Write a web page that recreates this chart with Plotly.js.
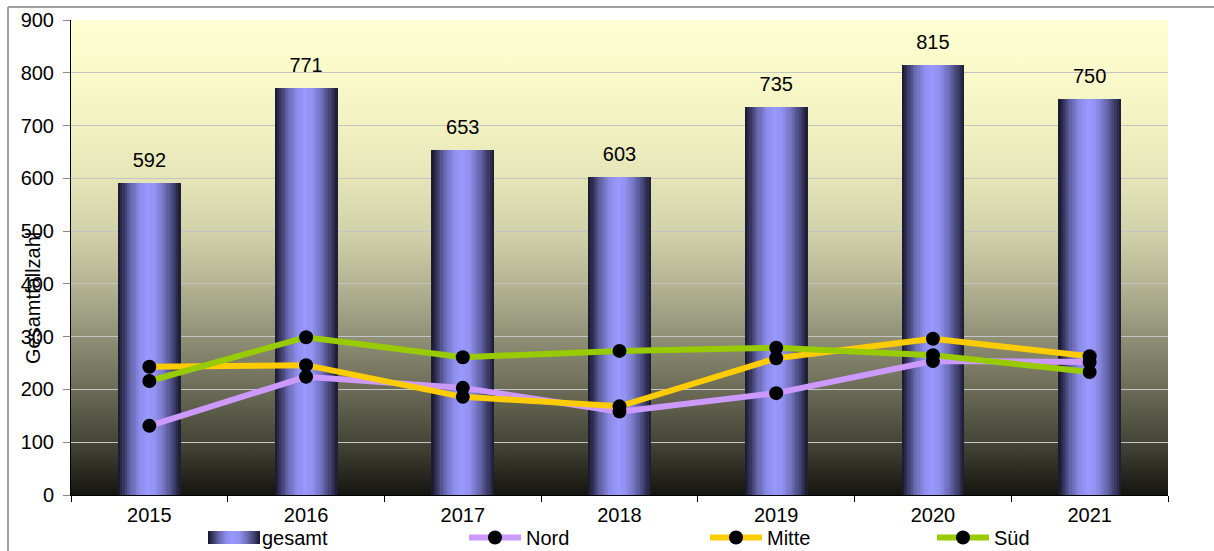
<!DOCTYPE html>
<html>
<head>
<meta charset="utf-8">
<script src="https://cdn.plot.ly/plotly-3.0.1.min.js"></script>
<style>
  html, body { margin: 0; padding: 0; background: #ffffff; }
  #chart { width: 1214px; height: 551px; }
</style>
</head>
<body>
<div id="chart"></div>
<script>
// ---- data ----
const years = ['2015', '2016', '2017', '2018', '2019', '2020', '2021'];
const gesamt = [592, 771, 653, 603, 735, 815, 750];
const nord = [131, 224, 203, 158, 193, 254, 252];
const mitte = [243, 246, 186, 168, 259, 296, 263];
const sued = [216, 299, 261, 273, 279, 265, 233];
const seriesNames = ['gesamt', 'Nord', 'Mitte', 'Süd'];
const yTicks = [0, 100, 200, 300, 400, 500, 600, 700, 800, 900];

// ---- styling ----
const FONT = 'Liberation Sans, Arial, sans-serif';
const FS = 20;
const barWidth = 0.4;
const nSlices = 28;
// horizontal bar shading: [position, [r,g,b]]
const barStops = [
  [0.00, [22, 22, 40]],
  [0.08, [50, 50, 90]],
  [0.20, [100, 100, 170]],
  [0.35, [140, 140, 235]],
  [0.48, [153, 153, 255]],
  [0.60, [145, 145, 240]],
  [0.75, [110, 110, 185]],
  [0.90, [60, 60, 105]],
  [1.00, [25, 25, 45]]
];
function shade(t) {
  for (let k = 0; k < barStops.length - 1; k++) {
    const [p0, c0] = barStops[k], [p1, c1] = barStops[k + 1];
    if (t >= p0 && t <= p1) {
      const f = (t - p0) / (p1 - p0);
      const c = c0.map((v, j) => Math.round(v + (c1[j] - v) * f));
      return 'rgb(' + c.join(',') + ')';
    }
  }
  return 'rgb(25,25,45)';
}

const traces = [];
const sw = barWidth / nSlices;
for (let i = 0; i < nSlices; i++) {
  const t = (i + 0.5) / nSlices;
  traces.push({
    type: 'bar',
    x: years,
    y: gesamt,
    width: sw * 1.04,
    offset: -barWidth / 2 + i * sw,
    marker: { color: shade(t), line: { width: 0 } },
    name: seriesNames[0],
    showlegend: false,
    hoverinfo: 'skip'
  });
}

// legend-only entry for the bars (swatch painted by a gradient image)
traces.push({
  type: 'scatter', mode: 'lines',
  x: [null], y: [null],
  name: seriesNames[0],
  line: { color: 'rgba(0,0,0,0)', width: 13 },
  legend: 'legend'
});

// data labels above bars
traces.push({
  type: 'scatter',
  mode: 'text+markers',
  x: years,
  y: gesamt,
  text: gesamt.map(String),
  textposition: 'top center',
  marker: { size: 16, opacity: 0 },
  textfont: { family: FONT, size: FS, color: '#000000' },
  showlegend: false,
  hoverinfo: 'skip',
  cliponaxis: false
});

const lineSeries = [
  [nord, '#cc99ff', seriesNames[1], 'legend2'],
  [mitte, '#ffcc00', seriesNames[2], 'legend3'],
  [sued, '#99cc00', seriesNames[3], 'legend4']
];
lineSeries.forEach(([vals, col, nm, lg]) => {
  traces.push({
    type: 'scatter',
    mode: 'lines+markers',
    x: years,
    y: vals,
    name: nm,
    legend: lg,
    line: { color: col, width: 6 },
    marker: { color: '#000000', size: 14, symbol: 'circle' },
    cliponaxis: false
  });
});

// plot-area vertical gradient
const bgSvg = '<svg xmlns="http://www.w3.org/2000/svg" width="100" height="100" preserveAspectRatio="none">' +
  '<defs><linearGradient id="g" x1="0" y1="0" x2="0" y2="1">' +
  '<stop offset="0" stop-color="#fefed2"/>' +
  '<stop offset="0.111" stop-color="#f9f9c9"/>' +
  '<stop offset="0.222" stop-color="#f1f1c1"/>' +
  '<stop offset="0.333" stop-color="#e5e5b8"/>' +
  '<stop offset="0.444" stop-color="#d2d2ab"/>' +
  '<stop offset="0.556" stop-color="#b4b494"/>' +
  '<stop offset="0.667" stop-color="#909077"/>' +
  '<stop offset="0.778" stop-color="#6b6b57"/>' +
  '<stop offset="0.889" stop-color="#454538"/>' +
  '<stop offset="1" stop-color="#151510"/>' +
  '</linearGradient></defs><rect width="100" height="100" fill="url(#g)"/></svg>';

// legend swatch gradient (horizontal, like the bars)
let swStops = '';
barStops.forEach(([p, c]) => { swStops += '<stop offset="' + p + '" stop-color="rgb(' + c.join(',') + ')"/>'; });
const swatchSvg = '<svg xmlns="http://www.w3.org/2000/svg" width="100" height="100" preserveAspectRatio="none">' +
  '<defs><linearGradient id="h" x1="0" y1="0" x2="1" y2="0">' + swStops +
  '</linearGradient></defs><rect width="100" height="100" fill="url(#h)"/></svg>';

const PW = 1097, PH = 475, ML = 71, MT = 20;
const px2x = p => (p - ML) / PW;
const px2y = p => (MT + PH - p) / PH;

function legendAt(xpx) {
  return {
    orientation: 'h',
    x: px2x(xpx), xanchor: 'left',
    y: px2y(518), yanchor: 'top',
    itemwidth: 52,
    font: { family: FONT, size: FS },
    bgcolor: 'rgba(0,0,0,0)',
    borderwidth: 0
  };
}

const layout = {
  width: 1214,
  height: 551,
  margin: { l: ML, r: 1214 - ML - PW, t: MT, b: 551 - MT - PH, autoexpand: false },
  paper_bgcolor: '#ffffff',
  plot_bgcolor: 'rgba(0,0,0,0)',
  font: { family: FONT, size: FS, color: '#000000' },
  barmode: 'overlay',
  bargap: 0,
  showlegend: true,
  images: [{
    source: 'data:image/svg+xml;charset=utf-8,' + encodeURIComponent(bgSvg),
    xref: 'paper', yref: 'paper',
    x: 0, y: 1, sizex: 1, sizey: 1,
    xanchor: 'left', yanchor: 'top',
    sizing: 'stretch',
    layer: 'below'
  }, {
    source: 'data:image/svg+xml;charset=utf-8,' + encodeURIComponent(swatchSvg),
    xref: 'paper', yref: 'paper',
    x: px2x(208), y: px2y(531), sizex: 52 / PW, sizey: 13 / PH,
    xanchor: 'left', yanchor: 'top',
    sizing: 'stretch',
    layer: 'above'
  }],
  xaxis: {
    type: 'category',
    tickmode: 'array',
    tickvals: years,
    ticktext: years,
    tickson: 'boundaries',
    ticks: 'outside',
    ticklen: 6,
    tickcolor: '#000000',
    ticklabelstandoff: 2,
    showline: true,
    linecolor: '#000000',
    linewidth: 1,
    showgrid: false,
    zeroline: false,
    tickfont: { family: FONT, size: FS },
    range: [-0.5, 6.5],
    fixedrange: true
  },
  yaxis: {
    range: [0, 900],
    tickmode: 'array',
    tickvals: yTicks,
    ticks: 'outside',
    ticklen: 7,
    tickcolor: '#888888',
    ticklabelstandoff: 5,
    showline: true,
    linecolor: '#000000',
    linewidth: 1,
    showgrid: true,
    gridcolor: '#c4c4c4',
    gridwidth: 1,
    zeroline: false,
    tickfont: { family: FONT, size: FS },
    fixedrange: true
  },
  legend: legendAt(200),
  legend2: legendAt(464),
  legend3: legendAt(705),
  legend4: legendAt(932),
  annotations: [{
    text: 'Gesamtfallzahl',
    xref: 'paper', yref: 'paper',
    x: px2x(33), y: px2y(298),
    xanchor: 'center', yanchor: 'middle',
    textangle: -90,
    showarrow: false,
    font: { family: FONT, size: FS, color: '#000000' }
  }],
  shapes: [
    { type: 'line', xref: 'paper', yref: 'paper', x0: px2x(8), x1: px2x(8), y0: px2y(560), y1: px2y(7),
      line: { color: '#a0a0a0', width: 2 } },
    { type: 'line', xref: 'paper', yref: 'paper', x0: px2x(8), x1: px2x(1220), y0: px2y(7), y1: px2y(7),
      line: { color: '#a0a0a0', width: 2 } }
  ]
};

Plotly.newPlot('chart', traces, layout, { displayModeBar: false, staticPlot: true });
</script>
</body>
</html>
